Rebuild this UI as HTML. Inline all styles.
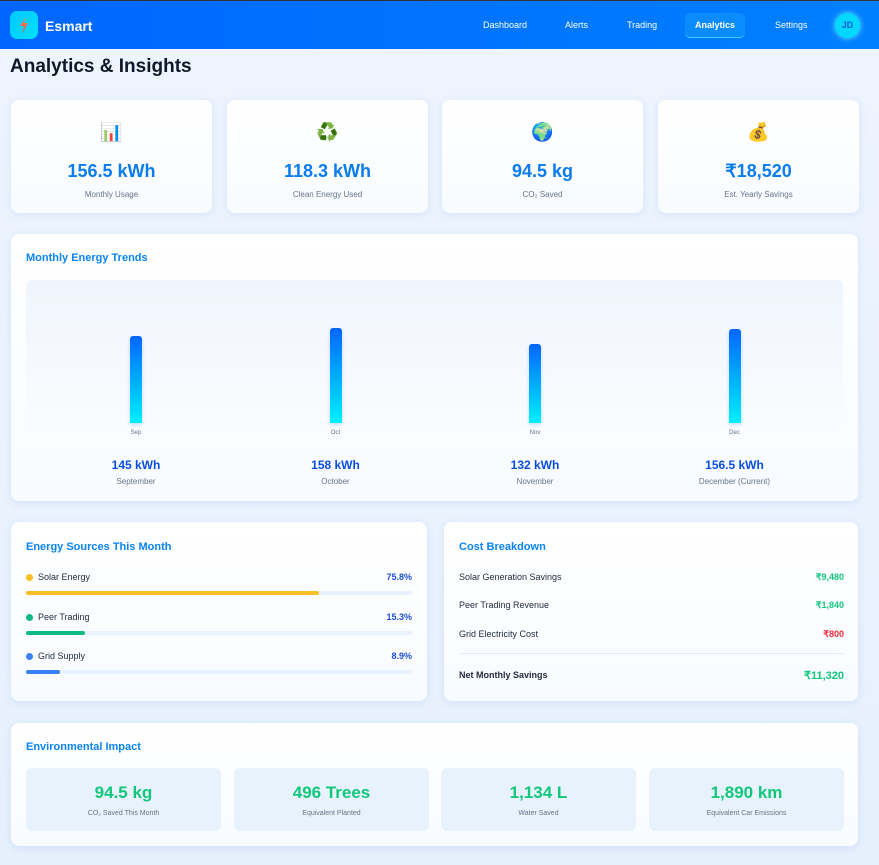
<!DOCTYPE html>
<html><head><meta charset="utf-8">
<style>
*{box-sizing:border-box;margin:0;padding:0}
body{width:879px;height:865px;overflow:hidden;font-family:"Liberation Sans",sans-serif;background:linear-gradient(180deg,#eef4fd,#e6f0fd);position:relative;color:#0f172a}
.hdr{position:absolute;left:0;top:0;width:879px;height:49px;background:linear-gradient(90deg,#0066ff,#0080ff);border-top:1px solid #333}
.logo{position:absolute;left:10px;top:10px;width:28px;height:28px;border-radius:7px;background:linear-gradient(135deg,#00c8ff,#00e0ff)}
.brand{position:absolute;left:45px;top:17px;color:#fff;font-weight:bold;font-size:14px}
.nav{position:absolute;top:19px;color:#fff;font-size:9px}
.nav.active{top:12px;left:685px;width:60px;height:25px;background:#0a8cff;border-radius:5px;border-bottom:1px solid #40d0ff;text-align:center;line-height:24px;font-weight:bold}
.avatar{position:absolute;left:835px;top:12px;width:25px;height:25px;border-radius:50%;background:#00d8ff;color:#0a5fd8;font-size:9px;font-weight:bold;text-align:center;line-height:25px;box-shadow:0 0 6px #6ef}
h1{position:absolute;left:10px;top:56px;font-size:19px;font-weight:bold;color:#0f172a}
.card{position:absolute;background:linear-gradient(180deg,#fff,#f8fbff);border-radius:8px;box-shadow:0 2px 8px rgba(60,120,220,0.12)}
.stat{top:100px;width:201px;height:113px;text-align:center}
.stat .ic{margin-top:22px;font-size:18px;height:22px}
.stat .v{margin-top:17px;font-size:18px;font-weight:bold;color:#0a7cf0}
.stat .l{margin-top:8px;font-size:8px;color:#64748b}
.ct{position:absolute;font-size:11px;font-weight:bold;color:#0a84f0}
.chart{position:absolute;left:15px;top:46px;width:817px;height:160px;border-radius:6px;background:linear-gradient(180deg,#f0f5fd,#fbfcff)}
.bar{position:absolute;width:12px;border-radius:3px 3px 0 0;background:linear-gradient(180deg,#0066ff,#00f0ff);box-shadow:0 2px 4px rgba(0,100,255,0.2)}
.bl{position:absolute;width:60px;text-align:center;font-size:6px;color:#64748b}
.sv{position:absolute;width:140px;text-align:center;font-size:12px;font-weight:bold;color:#0a4ee0}
.sl{position:absolute;width:140px;text-align:center;font-size:8px;color:#64748b}
.row{position:absolute;left:15px;width:386px;font-size:9px;color:#1e293b}
.row .dot{display:inline-block;width:7px;height:7px;border-radius:50%;margin-right:5px;vertical-align:-1px}
.row .p{position:absolute;right:0;top:0;color:#1d4ed8;font-weight:bold}
.track{position:absolute;left:15px;width:386px;height:4px;border-radius:2px;background:#e8f1fd}
.fill{height:4px;border-radius:2px}
.crow{position:absolute;left:15px;width:385px;font-size:9px;color:#1e293b}
.crow span{position:absolute;right:0;top:0;font-weight:bold}
.env{position:absolute;top:45px;width:195px;height:63px;background:#e8f2fd;border-radius:6px;text-align:center}
.env .v{margin-top:15px;font-size:17px;font-weight:bold;color:#10c77a}
.env .l{margin-top:7px;font-size:7px;color:#64748b}
</style></head><body>
<div class="hdr">
<div class="logo"><svg width="28" height="28" viewBox="0 0 28 28"><defs><linearGradient id="bg" x1="0" y1="0" x2="0" y2="1"><stop offset="0" stop-color="#fb923c"/><stop offset="1" stop-color="#f43f5e"/></linearGradient></defs><polygon points="16,6 10,15 14,15 12,23 18,12 14,12" fill="url(#bg)"/></svg></div>
<div class="brand">Esmart</div>
<div class="nav" style="left:483px">Dashboard</div>
<div class="nav" style="left:565px">Alerts</div>
<div class="nav" style="left:627px">Trading</div>
<div class="nav active">Analytics</div>
<div class="nav" style="left:775px">Settings</div>
<div class="avatar">JD</div>
</div>
<h1>Analytics &amp; Insights</h1>

<div class="card stat" style="left:11px"><div class="ic">📊</div><div class="v">156.5 kWh</div><div class="l">Monthly Usage</div></div>
<div class="card stat" style="left:227px"><div class="ic">♻️</div><div class="v">118.3 kWh</div><div class="l">Clean Energy Used</div></div>
<div class="card stat" style="left:442px"><div class="ic">🌍</div><div class="v">94.5 kg</div><div class="l">CO₂ Saved</div></div>
<div class="card stat" style="left:658px"><div class="ic">💰</div><div class="v">₹18,520</div><div class="l">Est. Yearly Savings</div></div>

<div class="card" id="trends" style="left:11px;top:234px;width:847px;height:267px">
<div class="ct" style="left:15px;top:18px">Monthly Energy Trends</div>
<div class="chart" id="chart"></div>
</div>

<div class="card" style="left:11px;top:522px;width:416px;height:179px" id="src">
<div class="ct" style="left:15px;top:19px">Energy Sources This Month</div>
</div>

<div class="card" style="left:444px;top:522px;width:414px;height:179px">
<div class="ct" style="left:15px;top:19px">Cost Breakdown</div>
<div class="crow" style="top:50px">Solar Generation Savings<span style="color:#10c77a">₹9,480</span></div>
<div class="crow" style="top:78px">Peer Trading Revenue<span style="color:#10c77a">₹1,840</span></div>
<div class="crow" style="top:107px">Grid Electricity Cost<span style="color:#ef2a3a">₹800</span></div>
<div style="position:absolute;left:15px;top:131px;width:385px;height:1px;background:#e5edf8"></div>
<div class="crow" style="top:148px;font-weight:bold">Net Monthly Savings<span style="color:#10c77a;font-size:11px;top:-1px">₹11,320</span></div>
</div>

<div class="card" style="left:11px;top:723px;width:847px;height:123px">
<div class="ct" style="left:15px;top:18px">Environmental Impact</div>
<div class="env" style="left:15px"><div class="v">94.5 kg</div><div class="l">CO₂ Saved This Month</div></div>
<div class="env" style="left:223px"><div class="v">496 Trees</div><div class="l">Equivalent Planted</div></div>
<div class="env" style="left:430px"><div class="v">1,134 L</div><div class="l">Water Saved</div></div>
<div class="env" style="left:638px"><div class="v">1,890 km</div><div class="l">Equivalent Car Emissions</div></div>
</div>

<script>
const months = ["Sep","Oct","Nov","Dec"];
const monthNames = ["September","October","November","December (Current)"];
const usage = [145,158,132,156.5];
const usageLabels = ["145 kWh","158 kWh","132 kWh","156.5 kWh"];
const sourceNames = ["Solar Energy","Peer Trading","Grid Supply"];
const sourcePct = [75.8,15.3,8.9];
const sourceColors = ["#fbbf24","#10b981","#3b82f6"];

const chart = document.getElementById('chart');
const trends = document.getElementById('trends');
function xCenter(i){ return 110 + i*199.5; }
function yHeight(v){ return v*0.6; }
const baseY = 143;
months.forEach((m,i)=>{
  const b = document.createElement('div');
  b.className='bar';
  
  
  const h = yHeight(usage[i]);
  b.style.left = (xCenter(i)-6)+'px';
  b.style.top = (baseY-h)+'px';
  b.style.height = h+'px';
  chart.appendChild(b);
  const l = document.createElement('div');
  l.className='bl';
  
  
  l.style.left=(xCenter(i)-30)+'px'; l.style.top=(baseY+7)+'px';
  l.textContent=m;
  chart.appendChild(l);
  const v = document.createElement('div');
  v.className='sv';
  
  
  v.style.left=(15+xCenter(i)-70)+'px'; v.style.top='224px';
  v.textContent=usageLabels[i];
  trends.appendChild(v);
  const s = document.createElement('div');
  s.className='sl';
  
  
  s.style.left=(15+xCenter(i)-70)+'px'; s.style.top='243px';
  s.textContent=monthNames[i];
  trends.appendChild(s);
});

const src = document.getElementById('src');
sourceNames.forEach((n,i)=>{
  const top = 50 + i*39.5;
  const r = document.createElement('div');
  r.className='row';
  
  
  r.style.top = top+'px';
  r.innerHTML = '<span class="dot" style="background:'+sourceColors[i]+'"></span>'+n+'<span class="p">'+sourcePct[i].toFixed(1)+'%</span>';
  src.appendChild(r);
  const t = document.createElement('div');
  t.className='track';
  
  
  t.style.top = (top+19)+'px';
  const f = document.createElement('div');
  f.className='fill';
  f.style.width = sourcePct[i]+'%';
  f.style.background = sourceColors[i];
  t.appendChild(f);
  src.appendChild(t);
});
</script>
</body></html>
